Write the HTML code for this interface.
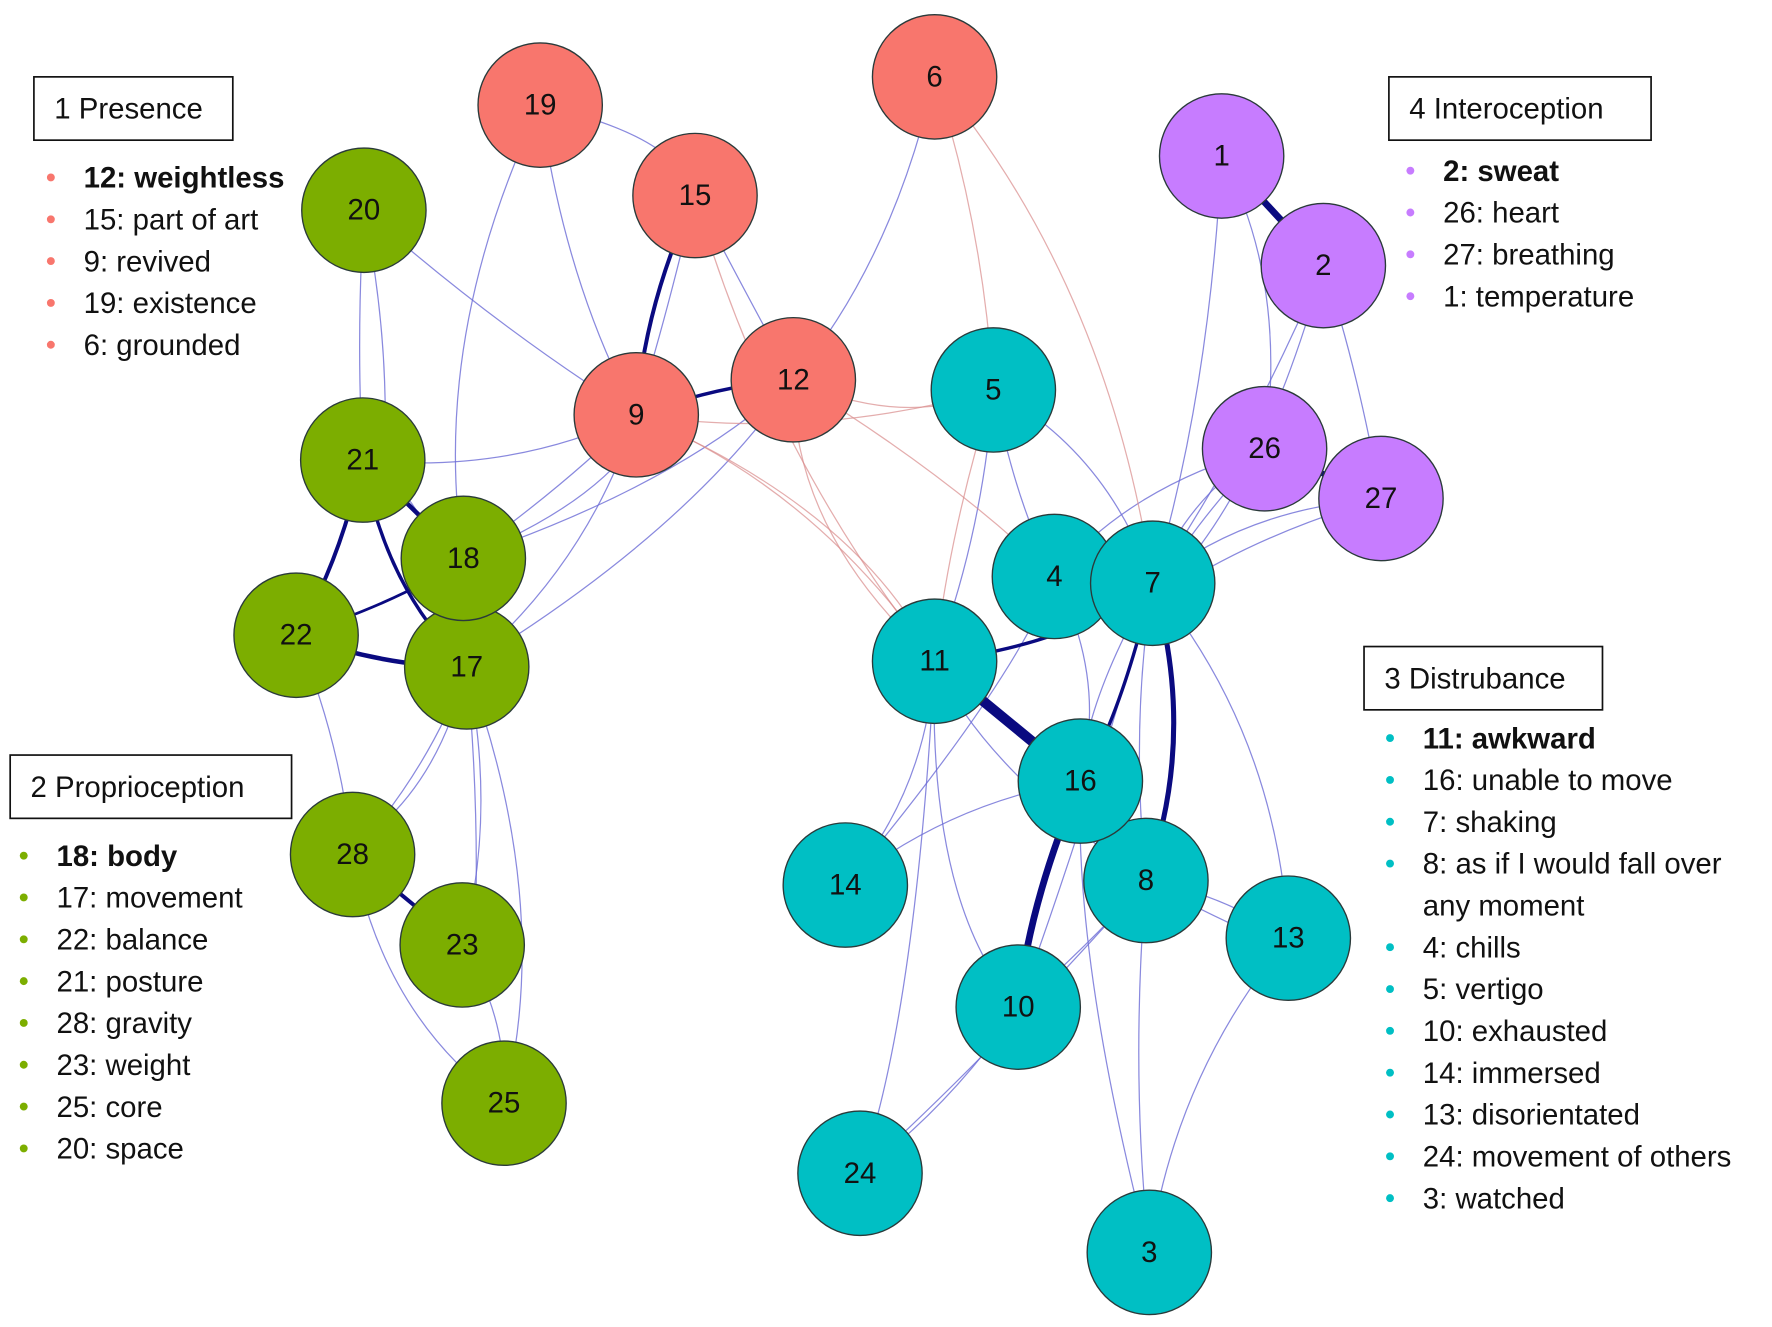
<!DOCTYPE html>
<html><head><meta charset="utf-8"><style>
html,body{margin:0;padding:0;background:#fff;}
svg{display:block;}
text{font-family:"Liberation Sans",sans-serif;}
.n{stroke:#2a3a3a;stroke-width:1.2;}
.l{font-size:26px;fill:#111;text-anchor:middle;dominant-baseline:central;}
.t{font-size:26px;fill:#111;}
.b{font-weight:bold;}
.e{fill:none;stroke:#6b6bd6;stroke-width:1.1;opacity:.8;}
.p{fill:none;stroke:#d88a8a;stroke-width:1.1;opacity:.7;}
.k{fill:none;stroke:#0a0a80;}
</style></head><body>
<svg width="1772" height="1327" viewBox="0 0 1568 1174" xmlns="http://www.w3.org/2000/svg" preserveAspectRatio="none">
<!-- thin blue edges -->
<path class="e" d="M478 93 Q600 120 615 173"/>
<path class="e" d="M478 93 Q500 250 563 367"/>
<path class="e" d="M478 93 Q380 300 410 494"/>
<path class="e" d="M615 173 Q660 260 702 336"/>
<path class="e" d="M615 173 Q590 280 563 367"/>
<path class="e" d="M322 186 Q440 290 563 367"/>
<path class="e" d="M322 186 Q315 300 321 407"/>
<path class="e" d="M322 186 Q345 300 340 407"/>
<path class="e" d="M827 68 Q790 230 702 336"/>
<path class="e" d="M321 407 Q450 420 563 367"/>
<path class="e" d="M410 494 Q500 430 563 367"/>
<path class="e" d="M410 494 Q520 450 563 390"/>
<path class="e" d="M410 494 Q600 430 702 336"/>
<path class="e" d="M413 590 Q520 500 563 367"/>
<path class="e" d="M413 590 Q610 470 702 336"/>
<path class="e" d="M321 407 Q390 440 413 590"/>
<path class="e" d="M262 562 Q300 650 312 756"/>
<path class="e" d="M413 590 Q380 680 312 756"/>
<path class="e" d="M413 590 Q390 690 325 740"/>
<path class="e" d="M413 590 Q440 720 409 836"/>
<path class="e" d="M413 590 Q425 720 420 836"/>
<path class="e" d="M413 590 Q490 800 446 976"/>
<path class="e" d="M409 836 Q450 900 446 976"/>
<path class="e" d="M312 756 Q340 900 446 976"/>
<path class="e" d="M1081 138 Q1140 250 1119 397"/>
<path class="e" d="M1081 138 Q1070 350 1020 516"/>
<path class="e" d="M1171 235 Q1200 320 1222 441"/>
<path class="e" d="M1171 235 Q1100 400 1020 516"/>
<path class="e" d="M1171 235 Q1120 420 1040 510"/>
<path class="e" d="M1119 397 Q1050 440 1020 516"/>
<path class="e" d="M1119 397 Q1000 430 933 510"/>
<path class="e" d="M1119 397 Q1060 460 1030 510"/>
<path class="e" d="M1222 441 Q1100 450 1020 516"/>
<path class="e" d="M1222 441 Q1120 470 1040 520"/>
<path class="e" d="M879 345 Q900 450 933 510"/>
<path class="e" d="M879 345 Q870 470 827 585"/>
<path class="e" d="M879 345 Q980 400 1020 516"/>
<path class="e" d="M933 510 Q900 600 748 783"/>
<path class="e" d="M933 510 Q980 600 956 691"/>
<path class="e" d="M1020 516 Q960 620 956 691"/>
<path class="e" d="M1020 516 Q970 700 901 891"/>
<path class="e" d="M1020 516 Q1000 640 1014 779"/>
<path class="e" d="M1020 516 Q1130 650 1140 830"/>
<path class="e" d="M827 585 Q820 700 748 783"/>
<path class="e" d="M827 585 Q820 800 901 891"/>
<path class="e" d="M827 585 Q870 680 1014 779"/>
<path class="e" d="M827 585 Q810 900 761 1038"/>
<path class="e" d="M956 691 Q840 710 748 783"/>
<path class="e" d="M956 691 Q950 850 1017 1108"/>
<path class="e" d="M1014 779 Q970 830 901 891"/>
<path class="e" d="M1014 779 Q1080 790 1140 830"/>
<path class="e" d="M1014 779 Q1070 810 1140 840"/>
<path class="e" d="M1014 779 Q1000 950 1017 1108"/>
<path class="e" d="M1014 779 Q880 930 761 1038"/>
<path class="e" d="M901 891 Q840 980 761 1038"/>
<path class="e" d="M1140 830 Q1040 950 1017 1108"/>
<!-- pink edges -->
<path class="p" d="M827 68 Q870 200 879 345"/>
<path class="p" d="M827 68 Q980 250 1020 516"/>
<path class="p" d="M615 173 Q680 400 827 585"/>
<path class="p" d="M702 336 Q700 470 827 585"/>
<path class="p" d="M563 367 Q720 430 827 585"/>
<path class="p" d="M563 367 Q760 450 827 585"/>
<path class="p" d="M702 336 Q800 380 879 345"/>
<path class="p" d="M563 367 Q720 390 879 345"/>
<path class="p" d="M702 336 Q840 420 933 510"/>
<path class="p" d="M879 345 Q840 470 827 585"/>
<!-- thick edges -->
<path class="k" stroke-width="6" d="M1081 138 L1171 235"/>
<path class="k" stroke-width="5" d="M1119 397 L1222 441"/>
<path class="k" stroke-width="3.5" d="M615 173 Q570 270 563 367"/>
<path class="k" stroke-width="3" d="M563 367 Q640 340 702 336"/>
<path class="k" stroke-width="3.5" d="M321 407 Q300 500 262 562"/>
<path class="k" stroke-width="4" d="M321 407 L410 494"/>
<path class="k" stroke-width="3" d="M321 407 Q340 520 413 590"/>
<path class="k" stroke-width="4" d="M262 562 Q340 590 413 590"/>
<path class="k" stroke-width="2.5" d="M262 562 Q360 530 410 494"/>
<path class="k" stroke-width="3.5" d="M312 756 L409 836"/>
<path class="k" stroke-width="9" d="M827 585 L956 691"/>
<path class="k" stroke-width="3" d="M827 585 Q950 570 1020 516"/>
<path class="k" stroke-width="3" d="M1020 516 Q990 640 956 691"/>
<path class="k" stroke-width="4.5" d="M1020 516 Q1060 650 1014 779"/>
<path class="k" stroke-width="6" d="M956 691 Q910 800 901 891"/>
<!-- nodes -->
<g class="n">
<circle cx="478" cy="93" r="55" fill="#f8766d"/>
<circle cx="827" cy="68" r="55" fill="#f8766d"/>
<circle cx="615" cy="173" r="55" fill="#f8766d"/>
<circle cx="563" cy="367" r="55" fill="#f8766d"/>
<circle cx="702" cy="336" r="55" fill="#f8766d"/>
<circle cx="322" cy="186" r="55" fill="#7cae00"/>
<circle cx="321" cy="407" r="55" fill="#7cae00"/>
<circle cx="262" cy="562" r="55" fill="#7cae00"/>
<circle cx="413" cy="590" r="55" fill="#7cae00"/>
<circle cx="410" cy="494" r="55" fill="#7cae00"/>
<circle cx="312" cy="756" r="55" fill="#7cae00"/>
<circle cx="409" cy="836" r="55" fill="#7cae00"/>
<circle cx="446" cy="976" r="55" fill="#7cae00"/>
<circle cx="1081" cy="138" r="55" fill="#c77cff"/>
<circle cx="1171" cy="235" r="55" fill="#c77cff"/>
<circle cx="1119" cy="397" r="55" fill="#c77cff"/>
<circle cx="1222" cy="441" r="55" fill="#c77cff"/>
<circle cx="879" cy="345" r="55" fill="#00bfc4"/>
<circle cx="933" cy="510" r="55" fill="#00bfc4"/>
<circle cx="1020" cy="516" r="55" fill="#00bfc4"/>
<circle cx="827" cy="585" r="55" fill="#00bfc4"/>
<circle cx="748" cy="783" r="55" fill="#00bfc4"/>
<circle cx="1014" cy="779" r="55" fill="#00bfc4"/>
<circle cx="956" cy="691" r="55" fill="#00bfc4"/>
<circle cx="1140" cy="830" r="55" fill="#00bfc4"/>
<circle cx="901" cy="891" r="55" fill="#00bfc4"/>
<circle cx="761" cy="1038" r="55" fill="#00bfc4"/>
<circle cx="1017" cy="1108" r="55" fill="#00bfc4"/>
</g>
<g class="l">
<text x="478" y="93">19</text><text x="827" y="68">6</text><text x="615" y="173">15</text>
<text x="563" y="367">9</text><text x="702" y="336">12</text><text x="322" y="186">20</text>
<text x="321" y="407">21</text><text x="262" y="562">22</text><text x="413" y="590">17</text>
<text x="410" y="494">18</text><text x="312" y="756">28</text><text x="409" y="836">23</text>
<text x="446" y="976">25</text><text x="1081" y="138">1</text><text x="1171" y="235">2</text>
<text x="1119" y="397">26</text><text x="1222" y="441">27</text><text x="879" y="345">5</text>
<text x="933" y="510">4</text><text x="1020" y="516">7</text><text x="827" y="585">11</text>
<text x="748" y="783">14</text><text x="1014" y="779">8</text><text x="956" y="691">16</text>
<text x="1140" y="830">13</text><text x="901" y="891">10</text><text x="761" y="1038">24</text>
<text x="1017" y="1108">3</text>
</g>
<!-- legends -->
<g fill="none" stroke="#111" stroke-width="1.5">
<rect x="30" y="68" width="176" height="56"/>
<rect x="1229" y="68" width="232" height="56"/>
<rect x="9" y="668" width="249" height="56"/>
<rect x="1207" y="572" width="211" height="56"/>
</g>
<g class="t">
<text x="48" y="105">1 Presence</text>
<text x="1247" y="105">4 Interoception</text>
<text x="27" y="705">2 Proprioception</text>
<text x="1225" y="609">3 Distrubance</text>
</g>
<g fill="#f8766d"><circle cx="45" cy="157" r="3.5"/><circle cx="45" cy="194" r="3.5"/><circle cx="45" cy="231" r="3.5"/><circle cx="45" cy="268" r="3.5"/><circle cx="45" cy="305" r="3.5"/></g>
<g class="t"><text x="74" y="166" class="b">12: weightless</text><text x="74" y="203">15: part of art</text><text x="74" y="240">9: revived</text><text x="74" y="277">19: existence</text><text x="74" y="314">6: grounded</text></g>
<g fill="#c77cff"><circle cx="1248" cy="151" r="3.5"/><circle cx="1248" cy="188" r="3.5"/><circle cx="1248" cy="225" r="3.5"/><circle cx="1248" cy="262" r="3.5"/></g>
<g class="t"><text x="1277" y="160" class="b">2: sweat</text><text x="1277" y="197">26: heart</text><text x="1277" y="234">27: breathing</text><text x="1277" y="271">1: temperature</text></g>
<g fill="#7cae00"><circle cx="21" cy="757" r="3.5"/><circle cx="21" cy="794" r="3.5"/><circle cx="21" cy="831" r="3.5"/><circle cx="21" cy="868" r="3.5"/><circle cx="21" cy="905" r="3.5"/><circle cx="21" cy="942" r="3.5"/><circle cx="21" cy="979" r="3.5"/><circle cx="21" cy="1016" r="3.5"/></g>
<g class="t"><text x="50" y="766" class="b">18: body</text><text x="50" y="803">17: movement</text><text x="50" y="840">22: balance</text><text x="50" y="877">21: posture</text><text x="50" y="914">28: gravity</text><text x="50" y="951">23: weight</text><text x="50" y="988">25: core</text><text x="50" y="1025">20: space</text></g>
<g fill="#00bfc4"><circle cx="1230" cy="653" r="3.5"/><circle cx="1230" cy="690" r="3.5"/><circle cx="1230" cy="727" r="3.5"/><circle cx="1230" cy="764" r="3.5"/><circle cx="1230" cy="838" r="3.5"/><circle cx="1230" cy="875" r="3.5"/><circle cx="1230" cy="912" r="3.5"/><circle cx="1230" cy="949" r="3.5"/><circle cx="1230" cy="986" r="3.5"/><circle cx="1230" cy="1023" r="3.5"/><circle cx="1230" cy="1060" r="3.5"/></g>
<g class="t"><text x="1259" y="662" class="b">11: awkward</text><text x="1259" y="699">16: unable to move</text><text x="1259" y="736">7: shaking</text><text x="1259" y="773">8: as if I would fall over</text><text x="1259" y="810">any moment</text><text x="1259" y="847">4: chills</text><text x="1259" y="884">5: vertigo</text><text x="1259" y="921">10: exhausted</text><text x="1259" y="958">14: immersed</text><text x="1259" y="995">13: disorientated</text><text x="1259" y="1032">24: movement of others</text><text x="1259" y="1069">3: watched</text></g>
</svg>
</body></html>
